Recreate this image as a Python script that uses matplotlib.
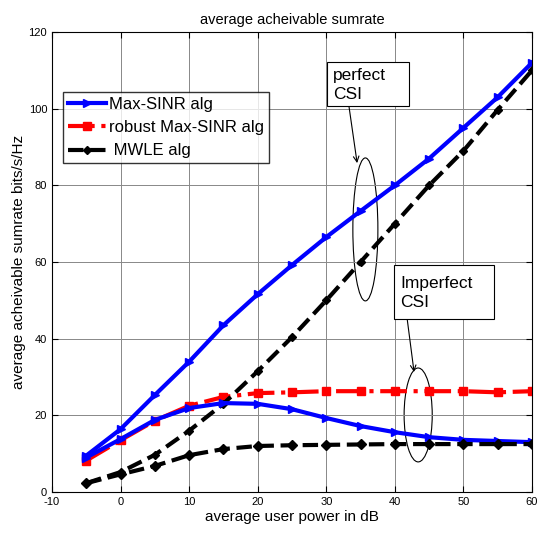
import matplotlib
matplotlib.use("Agg")
import matplotlib.pyplot as plt
from matplotlib.patches import Ellipse, Rectangle

plt.rcParams["font.family"] = ["Liberation Sans", "DejaVu Sans"]
plt.rcParams["axes.unicode_minus"] = False

power_db = [-5, 0, 5, 10, 15, 20, 25, 30, 35, 40, 45, 50, 55, 60]

maxsinr_perfect = [9.5, 16.4, 25.3, 34.0, 43.5, 51.6, 59.2, 66.5, 73.3, 80.0, 87.0, 95.0, 103.0, 112.0]
mwle_perfect = [2.3, 5.2, 9.7, 16.0, 23.0, 31.5, 40.4, 50.0, 60.0, 70.0, 80.0, 89.0, 99.7, 110.0]

maxsinr_imperfect = [9.0, 13.8, 18.8, 21.9, 23.2, 23.0, 21.6, 19.3, 17.2, 15.6, 14.3, 13.6, 13.3, 13.0]
robust_imperfect = [8.2, 13.5, 18.6, 22.5, 24.8, 25.8, 26.0, 26.3, 26.3, 26.3, 26.3, 26.3, 26.0, 26.3]
mwle_imperfect = [2.3, 4.6, 6.8, 9.6, 11.2, 12.0, 12.2, 12.3, 12.4, 12.5, 12.5, 12.5, 12.5, 12.5]

fig = plt.figure(figsize=(5.39, 5.36), dpi=100)
ax = fig.add_axes([52 / 539, 44 / 536, 480 / 539, 460 / 536])

blue = "#0000FF"
red = "#FF0000"

ax.plot(power_db, maxsinr_perfect, color=blue, lw=3, marker=">", ms=6, label="Max-SINR alg")
ax.plot(power_db, robust_imperfect, color=red, lw=3, ls="-.", marker="s", ms=6, label="robust Max-SINR alg")
ax.plot(power_db, mwle_perfect, color="black", lw=3, ls="--", marker="D", ms=4, label=" MWLE alg")
ax.plot(power_db, maxsinr_imperfect, color=blue, lw=3, marker=">", ms=6)
ax.plot(power_db, mwle_imperfect, color="black", lw=3, ls="--", marker="D", ms=5)

ax.set_xlim(-10, 60)
ax.set_ylim(0, 120)
ax.set_xticks(range(-10, 61, 10))
ax.set_yticks(range(0, 121, 20))
ax.grid(True, color="#888888", lw=0.7)
ax.tick_params(direction="in", top=True, right=True, labelsize=8, length=4)

ax.set_title("average acheivable sumrate", fontsize=10.5, pad=6)
ax.set_xlabel("average user power in dB", fontsize=11, labelpad=2)
ax.set_ylabel("average acheivable sumrate bits/s/Hz", fontsize=11, labelpad=2)

leg = ax.legend(loc="upper left", bbox_to_anchor=(0.022, 0.87), fontsize=12, frameon=True,
                fancybox=False, edgecolor="black", handlelength=2.3, borderpad=0.3,
                labelspacing=0.5, handletextpad=0.2, borderaxespad=0)
leg.get_frame().set_linewidth(1.0)

# annotation ellipses
ax.add_patch(Ellipse((35.7, 68.5), 3.65, 37.3, fill=False, color="black", lw=0.8))
ax.add_patch(Ellipse((43.4, 20.1), 4.1, 24.5, fill=False, color="black", lw=0.8))

# text boxes
ax.add_patch(Rectangle((30.1, 100.7), 11.96, 11.5, fill=True, fc="white", ec="black", lw=0.8, zorder=4))
ax.text(31.0, 106.2, "perfect\nCSI", fontsize=12.5, ha="left", va="center", linespacing=1.3, zorder=5)
ax.add_patch(Rectangle((39.9, 45.1), 14.6, 14.1, fill=True, fc="white", ec="black", lw=0.8, zorder=4))
ax.text(40.75, 51.9, "Imperfect\nCSI", fontsize=12.5, ha="left", va="center", linespacing=1.3, zorder=5)

# arrows
ax.annotate("", xy=(34.5, 85.8), xytext=(33.3, 100.7),
            arrowprops=dict(arrowstyle="->", color="black", lw=0.8, shrinkA=0, shrinkB=0))
ax.annotate("", xy=(42.8, 31.3), xytext=(41.8, 45.1),
            arrowprops=dict(arrowstyle="->", color="black", lw=0.8, shrinkA=0, shrinkB=0))

fig.savefig("out.png", dpi=100)
